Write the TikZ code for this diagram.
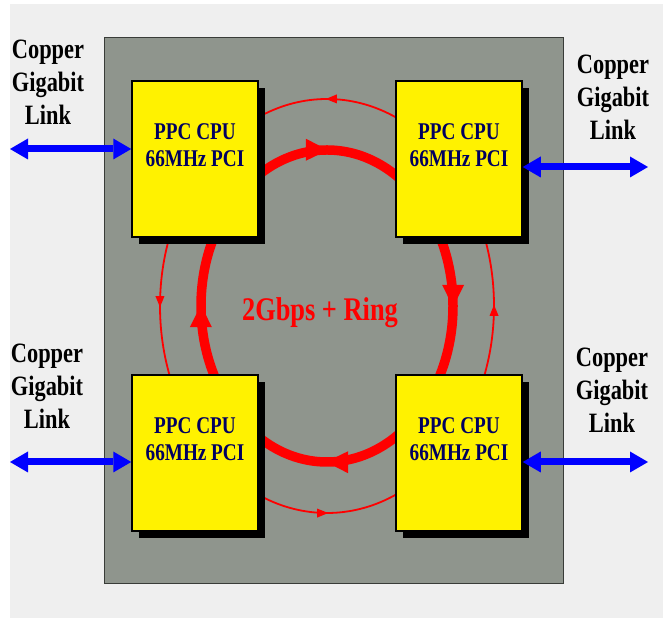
\documentclass[tikz,border=0pt]{standalone}
\usepackage{fontspec}
\setmainfont{Liberation Serif}[FakeStretch=0.8]
\usepackage{tikz}
\usetikzlibrary{arrows.meta,positioning,calc,shadows,decorations.markings}
\definecolor{bggray}{RGB}{239,239,239}
\definecolor{panelgray}{RGB}{143,149,141}
\definecolor{cpunavy}{RGB}{0,0,96}
\tikzset{
  >=Stealth,
  cpu/.style={rectangle, draw=black, line width=1.5pt, fill=yellow, minimum width=126pt, minimum height=156pt, inner sep=0pt, align=center, text=cpunavy, font=\fontsize{24}{27}\selectfont\bfseries, drop shadow={shadow xshift=7pt, shadow yshift=-7pt, opacity=1, fill=black}},
  lbl/.style={align=center, font=\fontsize{28}{33}\selectfont\bfseries},
  ringlbl/.style={text=red, font=\fontsize{33}{36}\selectfont\bfseries},
  link/.style={{Triangle[length=18pt,width=21pt,line width=0pt]}-{Triangle[length=18pt,width=21pt,line width=0pt]}, line width=7pt, blue},
  bigring/.style={red, line width=9.5pt, postaction={decorate}, decoration={markings, mark=between positions 0.001 and 0.8 step 0.25 with {\arrow{Triangle[length=22pt,width=22pt,line width=0pt]}}}},
  smallring/.style={red, line width=1.8pt, postaction={decorate}, decoration={markings, mark=between positions 0.001 and 0.8 step 0.25 with {\arrow{Triangle[length=11pt,width=9pt,line width=0pt]}}}}
}
\begin{document}
\begin{tikzpicture}[x=1pt,y=1pt]
\useasboundingbox (0,0) rectangle (663,620);
\fill[bggray] (10,2) rectangle (663,616);
\draw[panelgray!40!black, fill=panelgray, line width=0.8pt] (104,37) rectangle (563,583);

% ring
\coordinate (ring) at (327,314);
\draw[smallring] ($(ring)+(167,0)$) arc[start angle=0, end angle=360, x radius=167, y radius=207] -- cycle;
\draw[bigring] ($(ring)+(126,0)$) arc[start angle=0, end angle=-360, x radius=126, y radius=156] -- cycle;
\node (ringtxt) [ringlbl] at (320,307) {2Gbps + Ring};

% cpus
\node (cpu1) [cpu] at (195,461) {PPC CPU\\66MHz PCI\\\mbox{}};
\node (cpu2) [cpu] at (459,461) {PPC CPU\\66MHz PCI\\\mbox{}};
\node (cpu3) [cpu] at (195,167) {PPC CPU\\66MHz PCI\\\mbox{}};
\node (cpu4) [cpu] at (459,167) {PPC CPU\\66MHz PCI\\\mbox{}};

% links
\coordinate (l1) at (10,471);
\coordinate (l2) at (648,453);
\coordinate (l3) at (10,158);
\coordinate (l4) at (648,158);
\draw[link] (l1) -- (l1 -| cpu1.west);
\draw[link] (l2 -| cpu2.east) -- (l2);
\draw[link] (l3) -- (l3 -| cpu3.west);
\draw[link] (l4 -| cpu4.east) -- (l4);

\node (lbl1) [lbl] at (48,538) {Copper\\Gigabit\\Link};
\node (lbl2) [lbl] at (613,523) {Copper\\Gigabit\\Link};
\node (lbl3) [lbl] at (47,234) {Copper\\Gigabit\\Link};
\node (lbl4) [lbl] at (612,230) {Copper\\Gigabit\\Link};

\end{tikzpicture}
\end{document}
